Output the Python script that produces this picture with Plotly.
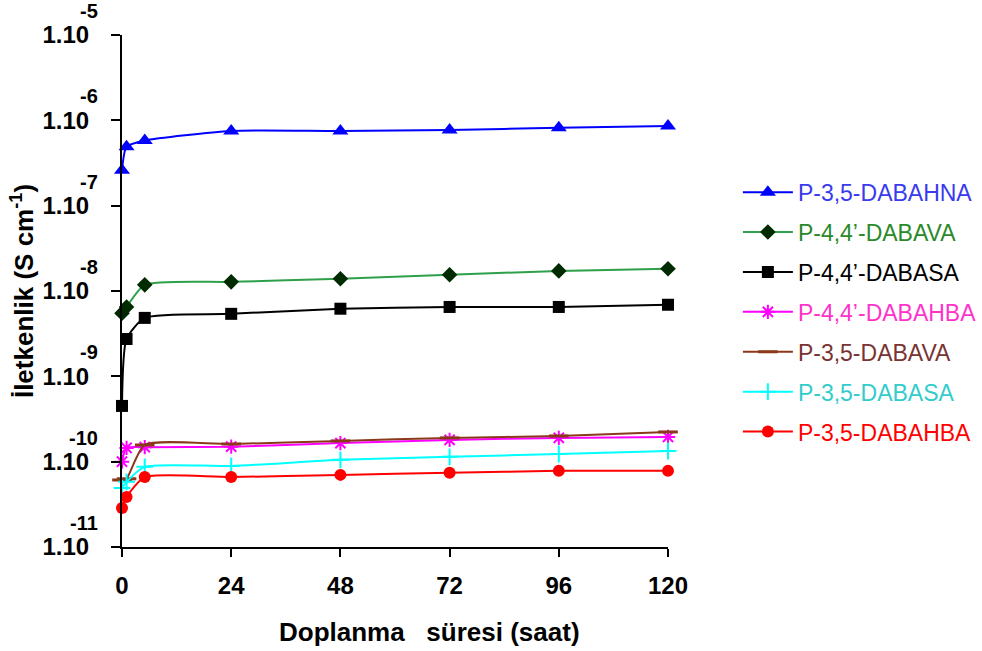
import plotly.graph_objects as go

# Doping time (hours)
hours = [0, 1, 5, 24, 48, 72, 96, 120]

# Conductivity values (S cm^-1) for each polymer
p35_dabahna = [2.6e-7, 4.9e-7, 5.8e-7, 7.5e-7, 7.5e-7, 7.7e-7, 8.2e-7, 8.6e-7]
p44_dabava = [5.5e-9, 6.5e-9, 1.18e-8, 1.28e-8, 1.39e-8, 1.55e-8, 1.72e-8, 1.82e-8]
p44_dabasa = [4.5e-10, 2.74e-9, 4.84e-9, 5.4e-9, 6.2e-9, 6.5e-9, 6.5e-9, 6.9e-9]
p44_dabahba = [1.0e-10, 1.45e-10, 1.48e-10, 1.5e-10, 1.65e-10, 1.8e-10, 1.9e-10, 1.95e-10]
p35_dabava = [6.1e-11, 6.3e-11, 1.57e-10, 1.61e-10, 1.75e-10, 1.9e-10, 2.0e-10, 2.23e-10]
p35_dabasa = [4.9e-11, 5.8e-11, 8.7e-11, 8.9e-11, 1.05e-10, 1.14e-10, 1.23e-10, 1.33e-10]
p35_dabahba = [2.87e-11, 3.86e-11, 6.6e-11, 6.6e-11, 7.0e-11, 7.4e-11, 7.8e-11, 7.8e-11]

x_ticks = [0, 24, 48, 72, 96, 120]
y_exponents = [-11, -10, -9, -8, -7, -6, -5]

series = [
    ("P-3,5-DABAHNA", p35_dabahna, "#0000ff", "#3a3aee",
     dict(symbol="triangle-up", size=14, color="#0000ff")),
    ("P-4,4’-DABAVA", p44_dabava, "#2fa04a", "#2a8a2a",
     dict(symbol="diamond", size=12, color="#002a00")),
    ("P-4,4’-DABASA", p44_dabasa, "#000000", "#000000",
     dict(symbol="square", size=12, color="#000000")),
    ("P-4,4’-DABAHBA", p44_dabahba, "#ff00ff", "#ff33cc",
     dict(symbol="asterisk-open", size=12, line=dict(color="#ff00ff", width=2))),
    ("P-3,5-DABAVA", p35_dabava, "#8a3a1a", "#7a3333",
     dict(symbol="line-ew-open", size=14, line=dict(color="#5a0000", width=3))),
    ("P-3,5-DABASA", p35_dabasa, "#00ffff", "#33cccc",
     dict(symbol="cross-thin-open", size=12, line=dict(color="#00e5e5", width=2))),
    ("P-3,5-DABAHBA", p35_dabahba, "#ff0000", "#ff0000",
     dict(symbol="circle", size=12, color="#ff0000")),
]

fig = go.Figure()
for i, (name, vals, line_col, text_col, marker) in enumerate(series):
    fig.add_trace(go.Scatter(
        x=hours, y=vals, mode="lines+markers",
        name=f'<span style="color:{text_col}">{name}</span>',
        legendgroup=f"g{i}",
        line=dict(color=line_col, width=2, shape="spline", smoothing=0.6),
        marker=marker, cliponaxis=False,
    ))

fig.update_layout(
    width=982, height=651,
    margin=dict(l=122, r=314, t=35, b=104, autoexpand=False),
    paper_bgcolor="white", plot_bgcolor="white",
    font=dict(family="Liberation Sans, Arial, sans-serif", color="black"),
    legend=dict(
        x=1.128, xanchor="left", xref="paper", y=0.735, yanchor="top",
        font=dict(size=23), itemwidth=50, tracegroupgap=7,
        bgcolor="rgba(0,0,0,0)",
    ),
    xaxis=dict(
        range=[0, 120], tickvals=x_ticks,
        ticktext=[f"<b>{t}</b>" for t in x_ticks],
        showline=True, linecolor="black", linewidth=2,
        ticks="outside", ticklen=8, tickwidth=2, tickcolor="black",
        showgrid=False, zeroline=False,
        tickfont=dict(size=24),
        ticklabelstandoff=8,
    ),
    yaxis=dict(
        type="log", range=[-11, -5],
        tickvals=[10.0 ** e for e in y_exponents],
        ticktext=["<b>1.10</b>"] * len(y_exponents),
        showline=True, linecolor="black", linewidth=2,
        ticks="outside", ticklen=9, tickwidth=2, tickcolor="black",
        showgrid=False, zeroline=False,
        tickfont=dict(size=24),
        ticklabelstandoff=17,
    ),
)

annotations = []
for e in y_exponents:
    annotations.append(dict(
        xref="paper", yref="y", x=0, y=e, xanchor="right", yanchor="middle",
        xshift=-22, yshift=24, showarrow=False,
        text=f"<b>{e}</b>", font=dict(size=20, color="black"),
    ))
annotations.append(dict(
    xref="paper", yref="paper", x=0.564, y=-0.166, xanchor="center", yanchor="middle",
    showarrow=False, text="<b>Doplanma   süresi (saat)</b>",
    font=dict(size=26, color="black"),
))
annotations.append(dict(
    xref="paper", yref="paper", x=-0.183, y=0.50, xanchor="center", yanchor="middle",
    showarrow=False, textangle=-90, text="<b>İletkenlik (S cm<sup>-1</sup>)</b>",
    font=dict(size=26, color="black"),
))
fig.update_layout(annotations=annotations)

fig.write_html("out.html")
